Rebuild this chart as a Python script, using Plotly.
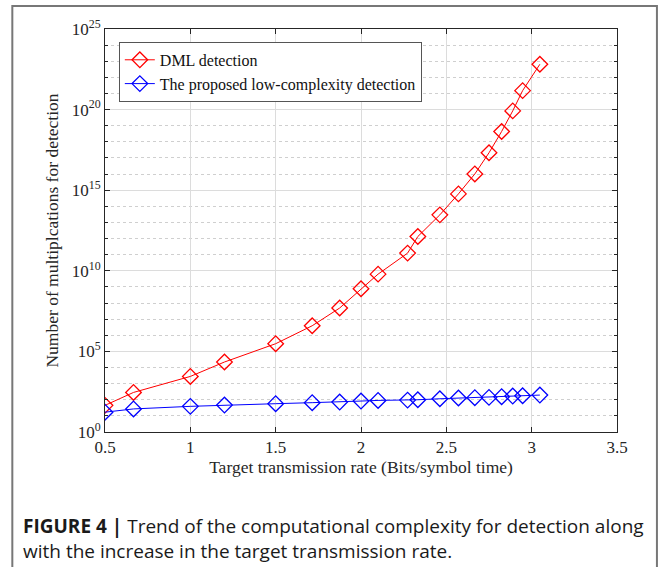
import plotly.graph_objects as go

# ---- data ----
rate = [0.5, 0.667, 1.0, 1.2, 1.5, 1.714, 1.875, 2.0, 2.1, 2.273, 2.333,
        2.462, 2.571, 2.667, 2.75, 2.824, 2.889, 2.947, 3.048]
dml = [45, 285, 2.8e3, 2.2e4, 3.0e5, 3.9e6, 4.9e7, 7.7e8, 6.2e9, 1.25e11,
       1.34e12, 2.95e13, 5.9e14, 1.02e16, 2.1e17, 4.4e18, 8.3e19, 1.5e21, 6.5e22]
proposed = [17, 27, 39, 47, 57, 66, 72, 83, 91, 95, 100, 115, 129, 135,
            140, 155, 170, 178, 195]

series_names = ["DML detection", "The proposed low-complexity detection"]
series_colors = ["#ff0000", "#0000ff"]

x_ticks = [0.5, 1, 1.5, 2, 2.5, 3, 3.5]
x_ticktext = ["0.5", "1", "1.5", "2", "2.5", "3", "3.5"]
y_major_exp = [0, 5, 10, 15, 20, 25]
y_minor_exp = list(range(0, 26))

x_title = "Target transmission rate (Bits/symbol time)"
y_title = "Number of multiplcations for detection"
caption = ("<b>FIGURE 4 |</b> Trend of the computational complexity for detection along"
           "<br>with the increase in the target transmission rate.")

SERIF = "Liberation Serif, Times New Roman, serif"
SANS = "Open Sans, Liberation Sans, Arial, sans-serif"

fig = go.Figure()
for name, vals, col in zip(series_names, [dml, proposed], series_colors):
    fig.add_trace(go.Scatter(
        x=rate, y=vals, name=name, mode="lines+markers",
        line=dict(color=col, width=1),
        marker=dict(symbol="diamond-open", size=12, color=col,
                    line=dict(color=col, width=1.3)),
    ))

axis_common = dict(
    showline=True, linecolor="#262626", linewidth=1, mirror="ticks",
    ticks="inside", ticklen=5, tickcolor="#262626",
    zeroline=False,
    gridcolor="#dcdcdc", gridwidth=1,
)

fig.update_xaxes(
    range=[0.5, 3.5], tickvals=x_ticks, ticktext=x_ticktext,
    tickfont=dict(family=SERIF, size=17, color="#262626"),
    title=dict(text=x_title, font=dict(family=SERIF, size=17.5, color="#262626"),
               standoff=4),
    **axis_common,
)
fig.update_yaxes(
    type="log", range=[0, 25],
    tickvals=[10.0 ** e for e in y_major_exp],
    ticktext=[f"10<sup>{e}</sup>" for e in y_major_exp],
    tickfont=dict(family=SERIF, size=17, color="#262626"),
    minor=dict(tickvals=[10.0 ** e for e in y_minor_exp], ticks="inside",
               ticklen=3, tickcolor="#262626", showgrid=True,
               gridcolor="#cfcfcf", griddash="dot", gridwidth=1),
    title=dict(text=y_title, font=dict(family=SERIF, size=17.5, color="#262626"),
               standoff=8),
    **axis_common,
)

fig.update_layout(
    width=665, height=567,
    margin=dict(l=105, r=48, t=29, b=135),
    paper_bgcolor="white", plot_bgcolor="white",
    showlegend=True,
    legend=dict(x=0.027, y=0.968, xanchor="left", yanchor="top",
                bgcolor="white", bordercolor="#555555", borderwidth=1,
                font=dict(family=SERIF, size=16, color="#111111"),
                tracegroupgap=0, itemwidth=30),
    font=dict(family=SERIF),
)

# outer figure frame
fig.add_shape(type="rect", xref="paper", yref="paper",
              x0=-0.181, x1=1.078, y0=-0.36, y1=1.057,
              line=dict(color="#777777", width=2), layer="below")

fig.add_annotation(
    xref="paper", yref="paper", x=-0.165, y=-0.197,
    xanchor="left", yanchor="top", align="left", showarrow=False,
    text=caption, font=dict(family=SANS, size=19, color="#1a1a1a"),
)

fig.write_html("out.html")
